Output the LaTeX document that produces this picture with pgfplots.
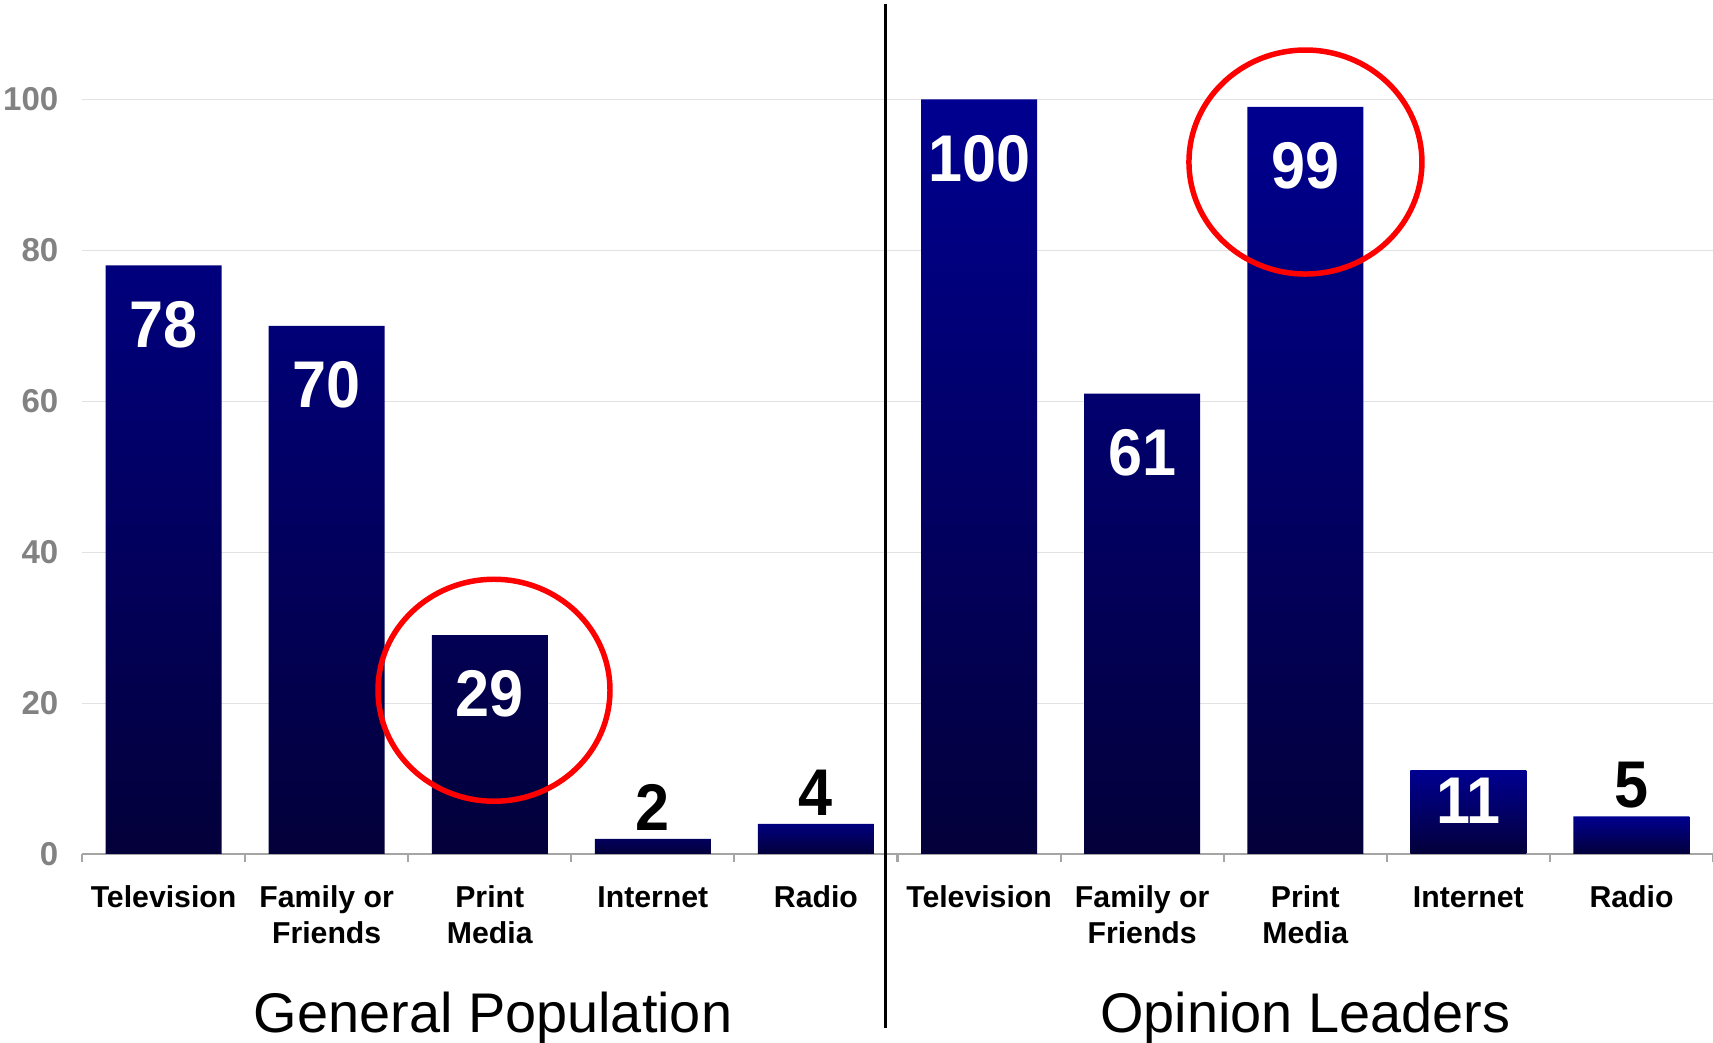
\documentclass[border=0pt]{standalone}
\usepackage{pgfplots}
\pgfplotsset{compat=1.18}
\usepackage{pgfplotstable}
\usepackage{fontspec}
\setmainfont{Liberation Sans}

\definecolor{barTop}{RGB}{0,0,144}
\definecolor{barBot}{RGB}{3,0,58}
\definecolor{tickGray}{RGB}{130,130,130}
\definecolor{axisGray}{RGB}{165,165,165}
\definecolor{gridGray}{RGB}{226,226,226}

% bars whose value sits well inside the bar
\pgfplotstableread{
x y
0 78
1 70
2 29
5 100
6 61
7 99
}\tallbars
% short bar, value still inside
\pgfplotstableread{
x y
8 11
}\midbars
% very short bars, value printed above
\pgfplotstableread{
x y
3 2
4 4
9 5
}\shortbars

\tikzset{valfont/.style={font=\fontsize{17.4}{19}\selectfont\bfseries}}

\begin{document}
\begin{tikzpicture}
\useasboundingbox (0,0) rectangle (17.13cm,10.43cm);
\begin{axis}[
  at={(0.82cm,1.89cm)}, anchor=south west,
  scale only axis, width=16.31cm, height=7.546cm,
  xmin=-0.5, xmax=9.5, ymin=0, ymax=100,
  clip=false,
  axis x line*=bottom, axis y line*=left,
  y axis line style={draw=none},
  x axis line style={draw=axisGray, line width=0.6pt, -},
  ytick={0,20,...,100},
  ymajorgrids, grid style={draw=gridGray, line width=0.3pt},
  major y tick style={draw=none},
  typeset ticklabels with strut,
  yticklabel style={font=\fontsize{9.4}{10}\selectfont\bfseries, text=tickGray,
    anchor=east, inner sep=0pt, xshift=-0.23cm, yshift=-0.04cm},
  /pgf/number format/assume math mode=true,
  xtick={0,...,9},
  xticklabels={Television, Family or\\Friends, Print\\Media, Internet, Radio,
               Television, Family or\\Friends, Print\\Media, Internet, Radio},
  xticklabel style={font=\fontsize{8.6}{10.4}\selectfont\bfseries, align=center,
    anchor=north, inner sep=0pt, yshift=-0.12cm},
  major x tick style={draw=none},
  minor xtick={-0.5,0.5,...,9.5},
  minor x tick style={draw=axisGray, line width=0.6pt},
  xtick align=outside, minor tick length=0.08cm,
  ybar, bar width=1.16cm, bar shift=0pt,
  point meta=rawy,
  nodes near coords={\scalebox{1}[1.08]{\pgfmathprintnumber{\pgfplotspointmeta}}},
]
\addplot[draw=none, top color=barTop, bottom color=barBot,
  every node near coord/.append style={valfont, text=white, anchor=center, yshift=-0.59cm}]
  table[x=x, y=y] {\tallbars};
\addplot[draw=none, top color=barTop, bottom color=barBot,
  every node near coord/.append style={valfont, text=white, anchor=center, yshift=-0.30cm}]
  table[x=x, y=y] {\midbars};
\addplot[draw=none, top color=barTop, bottom color=barBot,
  every node near coord/.append style={valfont, text=black, anchor=center, yshift=0.31cm}]
  table[x=x, y=y] {\shortbars};

% highlight rings around the print media bars
\draw[red, line width=1.56pt] (axis cs:2.026,21.7) ellipse [x radius=1.16cm, y radius=1.11cm];
\draw[red, line width=1.56pt] (axis cs:7.001,91.7) ellipse [x radius=1.165cm, y radius=1.12cm];

% divider between the two groups
\draw[black, line width=0.94pt] (axis cs:4.428,112.7) -- (axis cs:4.428,-23.06);

\node[anchor=base, font=\fontsize{15.9}{18}\selectfont] at (axis cs:2.02,-23.7) {General Population};
\node[anchor=base, font=\fontsize{15.9}{18}\selectfont] at (axis cs:7.0,-23.7) {Opinion Leaders};
\end{axis}
\end{tikzpicture}
\end{document}
